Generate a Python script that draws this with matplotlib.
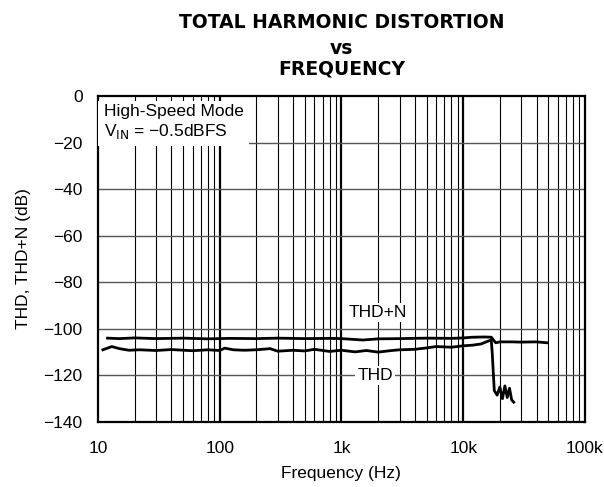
import numpy as np
import matplotlib.pyplot as plt
import matplotlib
matplotlib.rcParams['font.family'] = ['Liberation Sans', 'DejaVu Sans']

# THD+N curve
thdn_freq = [12, 15, 20, 30, 50, 80, 120, 200, 300, 500, 800, 1000, 1500, 2000,
             3000, 5000, 8000, 10000, 12000, 15000, 17000, 18500, 20000, 25000,
             30000, 40000, 49000]
thdn_db = [-104.0, -104.2, -103.9, -104.2, -104.0, -104.3, -104.1, -104.2, -104.0,
           -104.2, -104.1, -104.2, -104.8, -104.3, -104.2, -104.0, -104.1, -103.9,
           -103.6, -103.5, -103.6, -106.0, -105.6, -105.6, -105.7, -105.6, -106.0]

# THD curve
thd_freq = [11, 12, 13, 15, 18, 22, 30, 40, 60, 80, 100, 110, 130, 160, 200, 260,
            300, 400, 500, 600, 800, 1000, 1300, 1600, 2000, 2500, 3000, 4000,
            5000, 6000, 8000, 10000, 12000, 14000, 16000, 17000, 17300, 18000,
            19000, 20000, 21000, 22000, 23000, 24000, 25000, 26000]
thd_db = [-109.0, -108.3, -107.6, -108.5, -109.2, -109.0, -109.3, -108.9, -109.4,
          -109.0, -109.3, -108.3, -109.0, -109.2, -109.0, -108.5, -109.6, -109.2,
          -109.5, -108.8, -109.7, -109.2, -109.9, -109.3, -110.0, -109.4, -109.0,
          -108.8, -108.2, -107.6, -107.9, -107.3, -107.0, -106.5, -105.3, -104.8,
          -110.0, -126.5, -128.5, -125.0, -130.0, -124.5, -129.5, -125.5, -130.5,
          -131.5]

fs = 12.5

fig = plt.figure(figsize=(6.04, 4.87), dpi=100)
ax = fig.add_axes([0.162, 0.1335, 0.8065, 0.6695])

ax.set_xscale('log')
ax.set_xlim(10, 100000)
ax.set_ylim(-140, 0)

# grid
for dec in [10, 100, 1000, 10000]:
    for m in range(2, 10):
        ax.axvline(dec * m, color='black', lw=0.8, zorder=1)
for dec in [100, 1000, 10000]:
    ax.axvline(dec, color='black', lw=1.6, zorder=1)
for y in range(-120, 0, 20):
    ax.axhline(y, color='#555555', lw=1.0, zorder=1)

ax.plot(thdn_freq, thdn_db, color='black', lw=2.0, zorder=3)
ax.plot(thd_freq, thd_db, color='black', lw=2.0, zorder=3)

ax.set_xticks([10, 100, 1000, 10000, 100000])
ax.set_xticklabels(['10', '100', '1k', '10k', '100k'])
ax.xaxis.set_minor_locator(matplotlib.ticker.NullLocator())
ax.set_yticks(np.arange(-140, 1, 20))
ax.set_yticklabels(['\u2212%d' % abs(v) if v < 0 else '0' for v in np.arange(-140, 1, 20)])
ax.tick_params(length=0, labelsize=fs)
ax.tick_params(axis='x', pad=14)
ax.tick_params(axis='y', pad=11)

for s in ax.spines.values():
    s.set_linewidth(1.6)

ax.set_xlabel('Frequency (Hz)', fontsize=fs, labelpad=7)
ax.set_ylabel('THD, THD+N (dB)', fontsize=fs, labelpad=9)

tfont = dict(ha='center', va='center', fontsize=13.5, fontweight='bold',
             family='DejaVu Sans')
fig.text(0.565, 1 - 23 / 487, 'TOTAL HARMONIC DISTORTION', **tfont)
fig.text(0.565, 1 - 48 / 487, 'vs', **tfont)
fig.text(0.565, 1 - 69 / 487, 'FREQUENCY', **tfont)

ax.text(0.012, 0.975, 'High-Speed Mode\nV$_{\\rm IN}$ = \u22120.5dBFS', transform=ax.transAxes,
        ha='left', va='top', fontsize=fs, linespacing=1.2, zorder=4,
        bbox=dict(facecolor='white', edgecolor='none', pad=4))

ax.text(2000, -93, 'THD+N', ha='center', va='center', fontsize=fs, zorder=4,
        bbox=dict(facecolor='white', edgecolor='none', pad=1.5))
ax.text(1900, -120, 'THD', ha='center', va='center', fontsize=fs, zorder=4,
        bbox=dict(facecolor='white', edgecolor='none', pad=1.5))

plt.savefig('out.png', dpi=100)
